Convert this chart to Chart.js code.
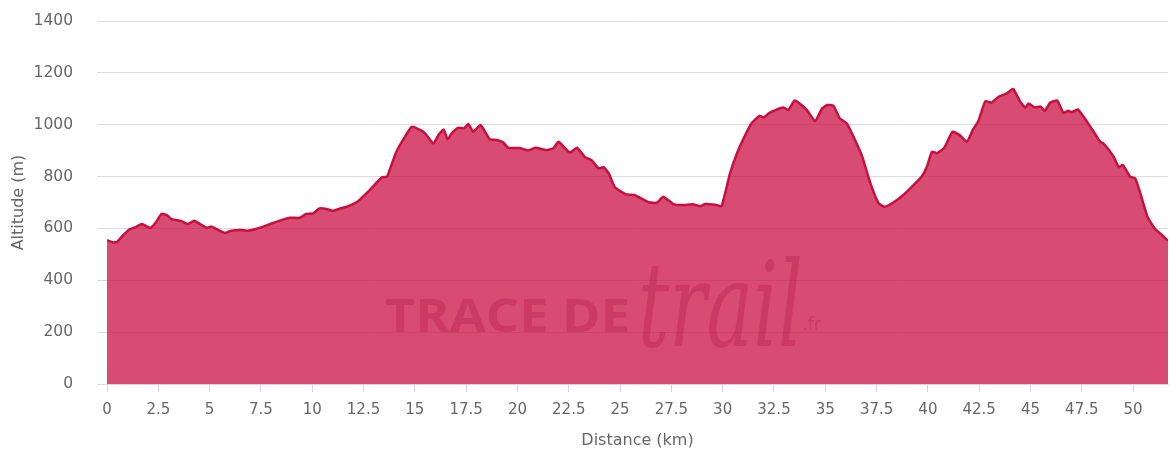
<!DOCTYPE html>
<html>
<head>
<meta charset="utf-8">
<script src="https://cdn.jsdelivr.net/npm/chart.js@4.4.1/dist/chart.umd.min.js"></script>
<style>
    body { margin: 0; background: #fff; }
    #wrap { width: 1171px; height: 452px; }
</style>
</head>
<body>
<div id="wrap"><canvas id="profile"></canvas></div>
<script>
// profile data (km / metres)
const distKm = [
    0, 0.3, 0.5, 0.8, 1.1, 1.4, 1.7, 2.1, 2.4, 2.65, 2.9, 3.15, 3.6, 3.95, 4.25, 4.55, 4.85, 5.1, 5.35, 5.75,
    6.0, 6.5, 6.8, 7.2, 7.5, 7.95, 8.5, 8.9, 9.4, 9.7, 10.05, 10.35, 10.7, 11.0, 11.4, 11.7, 12.2, 12.8, 13.4, 13.65,
    14.1, 14.85, 15.25, 15.5, 15.9, 16.15, 16.4, 16.6, 16.8, 17.1, 17.4, 17.6, 17.85, 18.2, 18.65, 19.0, 19.3, 19.55, 20.1, 20.5,
    20.9, 21.4, 21.75, 22.0, 22.55, 22.9, 23.3, 23.6, 23.95, 24.2, 24.45, 24.75, 25.3, 25.7, 26.4, 26.8, 27.1, 27.6, 28.1, 28.55,
    28.9, 29.15, 29.7, 29.95, 30.35, 30.7, 31.1, 31.4, 31.8, 32.0, 32.25, 32.6, 32.95, 33.2, 33.5, 33.75, 34.1, 34.5, 34.85, 35.1,
    35.4, 35.7, 36.05, 36.45, 36.8, 37.2, 37.6, 37.9, 38.3, 38.8, 39.3, 39.7, 39.95, 40.2, 40.45, 40.8, 41.2, 41.55, 41.9, 42.2,
    42.45, 42.8, 43.1, 43.45, 43.85, 44.15, 44.5, 44.75, 44.9, 45.2, 45.5, 45.7, 45.95, 46.3, 46.6, 46.85, 47.0, 47.3, 47.75, 48.15,
    48.4, 48.55, 49.05, 49.3, 49.5, 49.85, 50.1, 50.35, 50.7, 51.05, 51.4, 51.7
];
const altitudeM = [
    555, 546, 549, 575, 597, 605, 617, 602, 625, 656, 652, 636, 629, 617, 630, 616, 603, 607, 597, 582,
    590, 594, 591, 597, 604, 617, 632, 641, 641, 656, 658, 677, 675, 668, 678, 684, 703, 748, 797, 800,
    896, 992, 980, 967, 928, 960, 982, 944, 967, 988, 986, 1003, 973, 999, 944, 941, 932, 911, 910, 901,
    911, 902, 909, 934, 892, 911, 874, 864, 832, 836, 812, 759, 731, 729, 701, 699, 722, 694, 690, 693,
    686, 694, 690, 686, 810, 890, 960, 1005, 1034, 1028, 1044, 1057, 1066, 1057, 1093, 1082, 1057, 1014, 1063, 1076,
    1073, 1025, 1005, 941, 877, 774, 697, 684, 699, 729, 767, 800, 838, 896, 890, 911, 973, 960, 934, 982,
    1012, 1091, 1085, 1108, 1121, 1138, 1089, 1066, 1082, 1067, 1070, 1053, 1085, 1093, 1046, 1054, 1048, 1059, 1012, 964,
    934, 928, 877, 836, 845, 800, 793, 736, 645, 600, 575, 552
];
const totalKm = 51.7;
const altMax = 1400;
const altStep = 200;
const distStep = 2.5;

const points = distKm.map((d, i) => ({ x: d, y: altitudeM[i] }));

// watermark "TRACE DE trail.fr" drawn over the area
const watermark = {
    id: 'watermark',
    afterDatasetsDraw(chart) {
        const ctx = chart.ctx;
        const a = chart.chartArea;
        const cx = a.left + (a.right - a.left) * 0.262;
        ctx.save();
        ctx.fillStyle = 'rgba(170, 20, 70, 0.3)';
        ctx.textBaseline = 'alphabetic';
        ctx.font = "bold 46px 'Open Sans'";
        const w = ctx.measureText('TRACE DE').width;
        ctx.save();
        ctx.translate(cx, a.bottom - 52);
        ctx.scale(245 / w, 1);
        ctx.fillText('TRACE DE', 0, 0);
        ctx.restore();
        ctx.font = "italic 118px 'DejaVu Serif'";
        const w2 = ctx.measureText('trail').width;
        ctx.save();
        ctx.translate(cx + 253, a.bottom - 38);
        ctx.scale(165 / w2, 1);
        ctx.fillText('trail', 0, 0);
        ctx.restore();
        ctx.font = "18px 'Open Sans'";
        ctx.fillText('.fr', cx + 418, a.bottom - 54);
        ctx.restore();
    }
};

new Chart(document.getElementById('profile'), {
    type: 'line',
    data: {
        datasets: [{
            label: 'Altitude',
            data: points,
            borderColor: '#c8103f',
            borderWidth: 2.5,
            backgroundColor: 'rgba(203, 15, 68, 0.75)',
            fill: 'origin',
            pointRadius: 0,
            tension: 0.15
        }]
    },
    options: {
        responsive: true,
        maintainAspectRatio: false,
        animation: false,
        layout: { padding: { top: 21, right: 3, left: 0, bottom: 0 } },
        plugins: {
            legend: { display: false },
            tooltip: { enabled: false }
        },
        scales: {
            x: {
                type: 'linear',
                min: 0,
                max: totalKm,
                afterFit: (s) => { s.height = 68; },
                border: { display: true, color: '#ccd6eb', width: 1 },
                grid: { drawOnChartArea: false, drawTicks: true, tickLength: 8, color: '#ccd6eb' },
                ticks: {
                    stepSize: distStep,
                    includeBounds: false,
                    autoSkip: false,
                    maxRotation: 0,
                    padding: 9,
                    color: '#666',
                    font: { family: 'DejaVu Sans', size: 15 },
                    callback: (v) => String(v)
                },
                title: {
                    display: true,
                    text: 'Distance (km)',
                    color: '#666',
                    font: { family: 'DejaVu Sans', size: 16 },
                    padding: { top: 4, bottom: 2 }
                }
            },
            y: {
                min: 0,
                max: altMax,
                // fixed width, and drop the label overflow padding so the top gridline sits at 21px
                afterFit: (s) => { s.width = 107; s.paddingTop = 0; s.paddingBottom = 0; },
                border: { display: false },
                grid: { color: '#dcdcdc', tickLength: 10, drawTicks: true },
                ticks: {
                    stepSize: altStep,
                    padding: 24,
                    color: '#666',
                    font: { family: 'DejaVu Sans', size: 15.5 },
                    callback: (v) => String(v)
                },
                title: {
                    display: true,
                    text: 'Altitude (m)',
                    color: '#666',
                    font: { family: 'DejaVu Sans', size: 16 },
                    padding: { top: 9, bottom: 0 }
                }
            }
        }
    },
    plugins: [watermark]
});
</script>
</body>
</html>
